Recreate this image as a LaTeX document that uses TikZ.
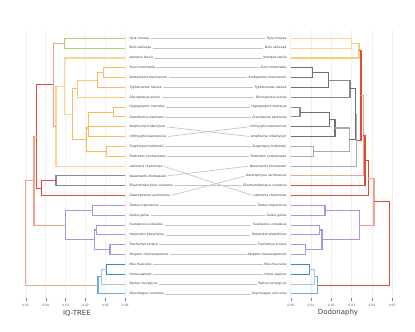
\documentclass[tikz,border=0pt]{standalone}
\usepackage{fontspec}
\setmainfont{DejaVu Sans}
\definecolor{cred}{HTML}{E34A33}
\definecolor{csal}{HTML}{F4A18F}
\definecolor{cgreen}{HTML}{ADD47A}
\definecolor{corl}{HTML}{FED590}
\definecolor{corm}{HTML}{FDBD55}
\definecolor{cgray}{HTML}{8A8A8A}
\definecolor{cgrayd}{HTML}{707070}
\definecolor{cgrayl}{HTML}{ABABAB}
\definecolor{cpur}{HTML}{A29ADB}
\definecolor{cblue}{HTML}{3A8AC4}
\definecolor{cbluem}{HTML}{6BAED6}
\definecolor{cbluel}{HTML}{9ECAE1}
\definecolor{cgrid}{HTML}{F0F0F0}
\definecolor{cconn}{HTML}{C4C4C4}
\begin{document}
\begin{tikzpicture}[x=1pt,y=-1pt,
  lab/.style={font=\fontsize{3.1}{3.7}\selectfont, text=black!80, inner sep=0.4pt},
  ticklab/.style={font=\fontsize{3}{3.6}\selectfont, text=black!65, inner sep=0pt},
  axtitle/.style={font=\fontsize{7}{8}\selectfont, text=black!75, inner sep=0pt},
  br/.style={line width=1.1pt},
  conn/.style={draw=cconn, line width=0.7pt},
  grid line/.style={draw=cgrid, line width=0.5pt},
  tick mark/.style={draw=black!50, line width=0.4pt}]
\useasboundingbox (0,0) rectangle (415,332);
% grid and axes
\foreach \k/\lab in {0/0.00,1/0.01,2/0.02,3/0.03,4/0.04,5/0.05}{
  \coordinate (gla\k) at ({125.3-19.9*\k},30);
  \coordinate (glb\k) at ({125.3-19.9*\k},298);
  \coordinate (gra\k) at ({290.7+20.3*\k},30);
  \coordinate (grb\k) at ({290.7+20.3*\k},298);
  \draw[grid line] (gla\k) -- (glb\k);
  \draw[grid line] (gra\k) -- (grb\k);
  \coordinate (tla\k) at ({125.3-19.9*\k},300.5);
  \coordinate (tra\k) at ({290.7+20.3*\k},300.5);
  \draw[tick mark] (glb\k) -- (tla\k);
  \draw[tick mark] (grb\k) -- (tra\k);
  \node[ticklab] (tl\k) at ({125.3-19.9*\k},305.5) {\lab};
  \node[ticklab] (tr\k) at ({290.7+20.3*\k},305.5) {\lab};
}
\node[axtitle] (xl) at (77,313) {IQ-TREE};
\node[axtitle] (xr) at (338,313) {Dodonaphy};
% leaf tips
\foreach \i in {0,...,26}{
  \coordinate (lt\i) at (125.3,{38.3+9.83*\i});
  \coordinate (rt\i) at (290.7,{38.3+9.83*\i});
}
% labels
\foreach \i/\t in {0/Hyla cinerea,1/Bufo valliceps,2/Xenopus laevis,3/Siren intermedia,4/Ambystoma mexicanum,5/Typhlonectes natans,6/Discoglossus pictus,7/Hypogeophis rostratus,8/Grandisonia alternans,9/Amphiuma tridactylum,10/Ichthyophis bannanicus,11/Scaphiopus holbrookii,12/Plethodon yonhalossee,13/Latimeria chalumnae,14/Nesomantis thomasseti,15/Eleutherodactylus cuneatus,16/Gastrophryne carolinensis,17/Turdus migratorius,18/Gallus gallus,19/Sceloporus undulatus,20/Heterodon platyrhinos,21/Trachemys scripta,22/Alligator mississippiensis,23/Mus musculus,24/Homo sapiens,25/Rattus norvegicus,26/Oryctolagus cuniculus}{
  \node[lab, anchor=west] (L\i) at (129,{38.3+9.83*\i}) {\t};
}
\foreach \i/\t in {0/Hyla cinerea,1/Bufo valliceps,2/Xenopus laevis,3/Siren intermedia,4/Ambystoma mexicanum,5/Typhlonectes natans,6/Discoglossus pictus,7/Hypogeophis rostratus,8/Grandisonia alternans,9/Ichthyophis bannanicus,10/Amphiuma tridactylum,11/Scaphiopus holbrookii,12/Plethodon yonhalossee,13/Nesomantis thomasseti,14/Gastrophryne carolinensis,15/Eleutherodactylus cuneatus,16/Latimeria chalumnae,17/Turdus migratorius,18/Gallus gallus,19/Sceloporus undulatus,20/Heterodon platyrhinos,21/Trachemys scripta,22/Alligator mississippiensis,23/Mus musculus,24/Homo sapiens,25/Rattus norvegicus,26/Oryctolagus cuniculus}{
  \node[lab, anchor=east] (R\i) at (287,{38.3+9.83*\i}) {\t};
}
% connectors
\foreach \i/\j in {0/0,1/1,2/2,3/3,4/4,5/5,6/6,7/7,8/8,9/10,10/9,11/11,12/12,13/16,14/13,15/15,16/14,17/17,18/18,19/19,20/20,21/21,22/22,23/23,24/24,25/25,26/26}{
  \draw[conn, shorten <=1pt, shorten >=1pt] (L\i.east) -- (R\j.west);
}
% ---------- left tree ----------
\coordinate (HG) at (113.3,112.05);
\coordinate (V1) at (88.6,119.4);
\coordinate (V) at (88.3,128.0);
\coordinate (U) at (106.5,151.35);
\coordinate (W) at (86.7,139.7);
\coordinate (SA) at (103.7,72.7);
\coordinate (Z2) at (97.3,80.1);
\coordinate (Z) at (77.7,88.7);
\coordinate (Y) at (72.3,114.2);
\coordinate (X) at (64.3,86.1);
\coordinate (OB) at (56,126.1);
\coordinate (GR) at (64.3,43.2);
\coordinate (N53) at (53.3,84.65);
\coordinate (GY) at (56,180.85);
\coordinate (N41) at (41.7,188.2);
\coordinate (C) at (36.7,136.4);
\coordinate (TG) at (92.3,210.3);
\coordinate (SH) at (96.3,230.0);
\coordinate (TA) at (110,249.65);
\coordinate (ST) at (94.3,239.8);
\coordinate (P) at (65.7,225.05);
\coordinate (B) at (34,180.7);
\coordinate (MH) at (106.7,269.3);
\coordinate (MR) at (101.3,276.7);
\coordinate (MO) at (98,285.3);
\coordinate (RT) at (25.7,233);
\draw[br, cgreen] (GR) |- (lt0) (GR) |- (lt1);
\draw[br, corm] (SA) |- (lt3) (SA) |- (lt4);
\draw[br, corm] (Z2) |- (SA) (Z2) |- (lt5);
\draw[br, corl!50!corm] (Z) |- (Z2) (Z) |- (lt6);
\draw[br, corm] (HG) |- (lt7) (HG) |- (lt8);
\draw[br, corm] (V1) |- (HG) (V1) |- (lt9);
\draw[br, corm] (V) |- (V1) (V) |- (lt10);
\draw[br, corm] (U) |- (lt11) (U) |- (lt12);
\draw[br, corm] (W) |- (V) (W) |- (U);
\draw[br, corm] (Y) |- (Z) (Y) |- (W);
\draw[br, corl] (X) |- (lt2) (X) |- (Y);
\draw[br, corl] (OB) |- (X) (OB) |- (lt13);
\draw[br, csal] (N53) |- (GR) (N53) |- (OB);
\draw[br, cgray] (GY) |- (lt14) (GY) |- (lt15);
\draw[br, cred] (N41) |- (GY) (N41) |- (lt16);
\draw[br, cred] (C) |- (N53) (C) |- (N41);
\draw[br, cpur] (TG) |- (lt17) (TG) |- (lt18);
\draw[br, cpur] (SH) |- (lt19) (SH) |- (lt20);
\draw[br, cpur] (TA) |- (lt21) (TA) |- (lt22);
\draw[br, cpur] (ST) |- (SH) (ST) |- (TA);
\draw[br, cpur] (P) |- (TG) (P) |- (ST);
\draw[br, csal] (B) |- (C) (B) |- (P);
\draw[br, cblue] (MH) |- (lt23) (MH) |- (lt24);
\draw[br, cbluel] (MR) |- (MH) (MR) |- (lt25);
\draw[br, cbluem] (MO) |- (MR) (MO) |- (lt26);
\draw[br, csal] (RT) |- (B) (RT) |- (MO);
% ---------- right tree ----------
\coordinate (rO1) at (351.7,43.2);
\coordinate (rO2) at (359,50.6);
\coordinate (rSA) at (312.3,72.7);
\coordinate (rT) at (328.3,80.1);
\coordinate (rD) at (350,88.7);
\coordinate (rHG) at (300,112.05);
\coordinate (rI) at (329.3,119.4);
\coordinate (rA) at (335,128.0);
\coordinate (rU) at (313.3,151.35);
\coordinate (rW) at (349.3,139.7);
\coordinate (rG1) at (355.5,114.2);
\coordinate (rG2) at (356.5,140.15);
\coordinate (rR1) at (361,95.4);
\coordinate (rR2) at (363.3,135.65);
\coordinate (rR3) at (365,160.7);
\coordinate (rR4) at (368.3,178.15);
\coordinate (rTG) at (325,210.3);
\coordinate (rSH) at (319.3,230.0);
\coordinate (rTA) at (305.7,249.65);
\coordinate (rST) at (322,239.8);
\coordinate (rP) at (359.3,225.05);
\coordinate (rR5) at (374,201.6);
\coordinate (rMH) at (309.3,269.3);
\coordinate (rMR) at (314.7,276.7);
\coordinate (rMO) at (317.7,285.3);
\coordinate (rR6) at (389.3,243.45);
\draw[br, corl] (rO1) |- (rt0) (rO1) |- (rt1);
\draw[br, corl!60!corm] (rO2) |- (rO1) (rO2) |- (rt2);
\draw[br, cgrayd] (rSA) |- (rt3) (rSA) |- (rt4);
\draw[br, cgrayd] (rT) |- (rSA) (rT) |- (rt5);
\draw[br, cgray] (rD) |- (rT) (rD) |- (rt6);
\draw[br, cgray] (rHG) |- (rt7) (rHG) |- (rt8);
\draw[br, cgrayd] (rI) |- (rHG) (rI) |- (rt9);
\draw[br, cgrayd] (rA) |- (rI) (rA) |- (rt10);
\draw[br, cgrayl] (rU) |- (rt11) (rU) |- (rt12);
\draw[br, cgrayl] (rW) |- (rA) (rW) |- (rU);
\draw[br, cgrayd] (rG1) |- (rD) (rG1) |- (rW);
\draw[br, cgrayl] (rG2) |- (rG1) (rG2) |- (rt13);
\draw[br, cred] (rR1) |- (rO2) (rR1) |- (rG2);
\draw[br, csal] (rR2) |- (rR1) (rR2) |- (rt14);
\draw[br, cred] (rR3) |- (rR2) (rR3) |- (rt15);
\draw[br, cred] (rR4) |- (rR3) (rR4) |- (rt16);
\draw[br, cpur] (rTG) |- (rt17) (rTG) |- (rt18);
\draw[br, cpur] (rSH) |- (rt19) (rSH) |- (rt20);
\draw[br, cpur] (rTA) |- (rt21) (rTA) |- (rt22);
\draw[br, cpur] (rST) |- (rSH) (rST) |- (rTA);
\draw[br, cpur] (rP) |- (rTG) (rP) |- (rST);
\draw[br, csal] (rR5) |- (rR4) (rR5) |- (rP);
\draw[br, cblue] (rMH) |- (rt23) (rMH) |- (rt24);
\draw[br, cbluel] (rMR) |- (rMH) (rMR) |- (rt25);
\draw[br, cbluem] (rMO) |- (rMR) (rMO) |- (rt26);
\draw[br, cred] (rR6) |- (rR5) (rR6) |- (rMO);
\end{tikzpicture}
\end{document}
